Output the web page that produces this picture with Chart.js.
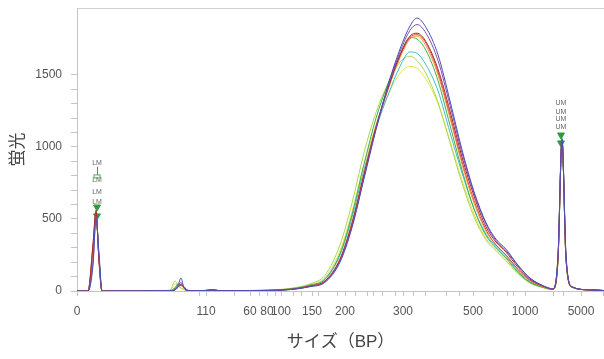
<!DOCTYPE html>
<html>
<head>
<meta charset="utf-8">
<script src="https://cdn.jsdelivr.net/npm/chart.js@4/dist/chart.umd.min.js"></script>
<style>
  html, body { margin: 0; padding: 0; background: #fff; overflow: hidden; }
  #wrap { width: 604px; height: 359px; position: relative; }
  canvas { display: block; }
</style>
</head>
<body>
<div id="wrap"><canvas id="trace"></canvas></div>
<script>
// x positions along the run (plot units), shared by every trace
const runPos = [0, 11, 16, 19, 22, 25, 33, 93, 98, 101, 104, 107, 111, 123, 131, 135, 143, 183, 213, 233, 248, 263, 275, 287, 299, 311, 323, 333, 340, 349, 361, 373, 385, 397, 409, 419, 429, 441, 453, 465, 476, 481, 485, 489, 495, 513, 527];

// fluorescence per sample
const sampleBlue   = [0, 0, 180, 500, 260, 0, 0, 2, 10, 40, 90, 20, 3, 2, 4, 6, 2, 3, 10, 30, 60, 200, 440, 780, 1120, 1430, 1680, 1840, 1895, 1830, 1640, 1320, 980, 690, 475, 360, 290, 180, 90, 40, 15, 250, 1060, 250, 30, 8, 3];
const samplePurple = [0, 0, 200, 510, 240, 0, 0, 2, 8, 30, 60, 25, 3, 2, 5, 8, 2, 3, 10, 32, 65, 210, 450, 790, 1130, 1420, 1660, 1810, 1850, 1790, 1600, 1290, 960, 680, 465, 350, 280, 175, 88, 40, 15, 240, 1050, 240, 30, 8, 3];
const sampleMaroon = [0, 0, 320, 560, 200, 0, 0, 2, 8, 25, 45, 30, 4, 2, 6, 10, 2, 3, 12, 35, 70, 220, 470, 810, 1140, 1410, 1640, 1770, 1790, 1730, 1540, 1250, 930, 660, 445, 340, 270, 165, 82, 38, 14, 230, 1040, 230, 28, 8, 3];
const sampleRed    = [0, 0, 330, 550, 210, 0, 0, 2, 10, 30, 40, 28, 4, 2, 5, 8, 2, 3, 11, 33, 68, 215, 460, 800, 1130, 1400, 1630, 1760, 1780, 1720, 1520, 1220, 900, 630, 425, 320, 250, 150, 75, 35, 13, 230, 1050, 230, 28, 8, 3];
const sampleOrange = [0, 0, 300, 545, 220, 0, 0, 2, 12, 35, 45, 25, 3, 2, 5, 8, 2, 3, 12, 36, 72, 225, 480, 820, 1150, 1400, 1620, 1750, 1770, 1700, 1500, 1200, 880, 610, 415, 320, 250, 150, 72, 33, 12, 220, 1040, 220, 26, 8, 3];
const sampleGreen  = [0, 0, 290, 540, 220, 0, 0, 3, 20, 45, 40, 20, 3, 2, 4, 6, 2, 4, 14, 40, 85, 260, 530, 880, 1200, 1440, 1640, 1760, 1750, 1670, 1460, 1150, 840, 570, 385, 300, 230, 130, 60, 28, 11, 220, 1050, 220, 26, 8, 3];
const sampleTeal   = [0, 0, 280, 530, 230, 0, 0, 3, 25, 50, 45, 20, 3, 2, 4, 6, 2, 4, 14, 40, 80, 250, 510, 840, 1130, 1360, 1560, 1660, 1650, 1570, 1390, 1100, 820, 570, 395, 310, 240, 140, 65, 30, 12, 220, 1040, 220, 26, 8, 3];
const sampleLime   = [0, 0, 280, 530, 230, 0, 0, 5, 70, 40, 20, 10, 3, 2, 4, 5, 2, 5, 18, 50, 110, 320, 610, 960, 1240, 1440, 1590, 1630, 1600, 1510, 1310, 1030, 750, 515, 355, 280, 210, 120, 55, 25, 10, 220, 1040, 220, 26, 8, 3];
const sampleYellow = [0, 0, 270, 520, 230, 0, 0, 4, 50, 35, 20, 10, 3, 2, 4, 5, 2, 5, 16, 45, 95, 280, 550, 880, 1150, 1360, 1510, 1560, 1545, 1470, 1300, 1040, 770, 535, 365, 290, 220, 125, 58, 27, 10, 215, 1030, 215, 26, 8, 3];

// size ladder ticks on the x axis (position -> label, '' = unlabeled)
const sizeTickPos    = [0, 122, 129, 157, 173, 182, 190, 198, 204, 216, 224, 235, 241, 260, 268, 278, 290, 296, 305, 318, 326, 336, 348, 370, 382, 396, 416, 430, 436, 448, 476, 486, 504, 526];
const sizeTickLabels = ['0', '', '110', '', '60', '', '80', '', '100', '', '', '150', '', '', '200', '', '', '', '', '', '300', '', '', '', '', '500', '', '', '', '1000', '', '', '5000', ''];

// marker annotations
const lowerMarkPos = 20;
const lowerTriangles = [583, 521];
const lowerLabels = [891, 771, 688, 618];
const upperMarkPos = 484;
const upperTriangles = [1083, 1028];
const upperLabels = [1304, 1245, 1192, 1137];

const FONT = '"Liberation Sans", "Noto Sans CJK JP", sans-serif';

const series = [
    { label: 'S1', data: sampleBlue,   color: '#4a50b4' },
    { label: 'S2', data: samplePurple, color: '#8a4aa6' },
    { label: 'S3', data: sampleMaroon, color: '#9c2a36' },
    { label: 'S4', data: sampleRed,    color: '#e64a3e' },
    { label: 'S5', data: sampleOrange, color: '#f29a3c' },
    { label: 'S6', data: sampleGreen,  color: '#3fae4e' },
    { label: 'S7', data: sampleTeal,   color: '#3fbccb' },
    { label: 'S8', data: sampleLime,   color: '#a8d84c' },
    { label: 'S9', data: sampleYellow, color: '#e8e24a' }
];

const lineSets = series.map(s => ({
    type: 'line',
    label: s.label,
    data: runPos.map((x, i) => ({ x: x, y: s.data[i] })),
    borderColor: s.color,
    borderWidth: 1,
    pointRadius: 0,
    fill: false,
    cubicInterpolationMode: 'monotone'
}));

const triangleSet = {
    type: 'scatter',
    label: 'markers',
    data: lowerTriangles.map(v => ({ x: lowerMarkPos, y: v }))
        .concat(upperTriangles.map(v => ({ x: upperMarkPos, y: v }))),
    pointStyle: 'triangle',
    rotation: 180,
    pointRadius: 4,
    backgroundColor: '#2e9a3c',
    borderColor: '#2e9a3c'
};

// LM / UM labels plus the top frame line
const markerText = {
    id: 'markerText',
    afterDatasetsDraw(chart) {
        const { ctx, chartArea, scales } = chart;
        ctx.save();
        ctx.strokeStyle = '#d0d0d0';
        ctx.lineWidth = 1;
        ctx.beginPath();
        ctx.moveTo(chartArea.left, chartArea.top + 0.5);
        ctx.lineTo(chartArea.right, chartArea.top + 0.5);
        ctx.stroke();

        ctx.font = '7px ' + FONT;
        ctx.fillStyle = '#666';
        ctx.textAlign = 'center';
        ctx.textBaseline = 'middle';
        const lx = scales.x.getPixelForValue(lowerMarkPos);
        lowerLabels.forEach(v => ctx.fillText('LM', lx, scales.y.getPixelForValue(v)));
        const ux = scales.x.getPixelForValue(upperMarkPos);
        upperLabels.forEach(v => ctx.fillText('UM', ux, scales.y.getPixelForValue(v)));

        // small stem + green bracket under the top LM
        const y1 = scales.y.getPixelForValue(lowerLabels[0]) + 4;
        const y2 = scales.y.getPixelForValue(806);
        ctx.strokeStyle = '#777';
        ctx.beginPath();
        ctx.moveTo(lx + 0.5, y1);
        ctx.lineTo(lx + 0.5, y2);
        ctx.stroke();
        ctx.strokeStyle = '#4cae4c';
        ctx.strokeRect(lx - 3, y2, 6, 3);
        ctx.restore();
    }
};

new Chart(document.getElementById('trace'), {
    data: { datasets: lineSets.concat([triangleSet]) },
    options: {
        responsive: true,
        maintainAspectRatio: false,
        animation: false,
        layout: { autoPadding: false, padding: { top: 8, right: 0, left: 0, bottom: 0 } },
        plugins: {
            legend: { display: false },
            tooltip: { enabled: false }
        },
        scales: {
            x: {
                type: 'linear',
                min: 0,
                max: 527,
                afterBuildTicks: scale => {
                    scale.ticks = sizeTickPos.map(v => ({ value: v }));
                },
                afterFit: scale => {
                    scale.height = 68;
                    scale.paddingRight = 0;
                    scale.paddingLeft = 0;
                },
                ticks: {
                    autoSkip: false,
                    maxRotation: 0,
                    padding: 8,
                    color: '#555',
                    font: { family: FONT, size: 12 },
                    callback: value => {
                        const i = sizeTickPos.indexOf(value);
                        return i >= 0 ? sizeTickLabels[i] : '';
                    }
                },
                grid: { drawOnChartArea: false, tickLength: 5, color: '#c4c4c4' },
                border: { color: '#c4c4c4' },
                title: {
                    display: true,
                    text: 'サイズ（BP）',
                    color: '#444',
                    font: { family: FONT, size: 17 },
                    padding: { top: 0, bottom: 6 }
                }
            },
            y: {
                min: 0,
                max: 1965,
                afterBuildTicks: scale => {
                    scale.ticks = scale.ticks.filter(t => t.value <= 1500);
                },
                afterFit: scale => {
                    scale.width = 77;
                    scale.paddingTop = 0;
                    scale.paddingBottom = 0;
                },
                ticks: {
                    stepSize: 100,
                    padding: 9,
                    color: '#555',
                    font: { family: FONT, size: 12 },
                    callback: v => (v % 500 === 0 ? v : '')
                },
                grid: { drawOnChartArea: false, tickLength: 6, color: '#c4c4c4' },
                border: { color: '#c4c4c4' },
                title: {
                    display: true,
                    text: '蛍光',
                    color: '#444',
                    font: { family: FONT, size: 17 },
                    padding: { top: 8, bottom: 0 }
                }
            }
        }
    },
    plugins: [markerText]
});
</script>
</body>
</html>
